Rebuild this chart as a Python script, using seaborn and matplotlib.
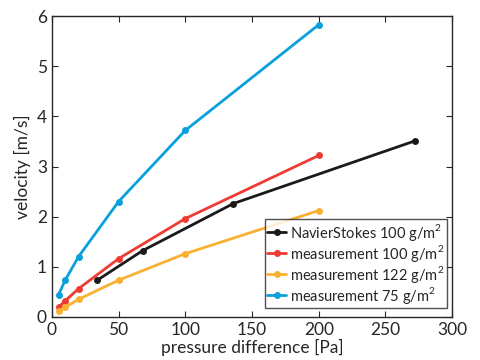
import matplotlib
matplotlib.use("Agg")
import matplotlib.pyplot as plt
import seaborn as sns
import pandas as pd

# data
x_meas = [5, 10, 20, 50, 100, 200]
v_meas_100 = [0.19, 0.32, 0.56, 1.16, 1.96, 3.22]
v_meas_122 = [0.11, 0.19, 0.35, 0.73, 1.26, 2.12]
v_meas_75 = [0.44, 0.73, 1.20, 2.30, 3.72, 5.83]
x_ns = [34, 68, 136, 272]
v_ns_100 = [0.73, 1.32, 2.26, 3.51]

labels = ["NavierStokes 100 g/m$^2$", "measurement 100 g/m$^2$",
          "measurement 122 g/m$^2$", "measurement 75 g/m$^2$"]
colors = ["#1a1a1a", "#ee3b33", "#f9b131", "#0aa0dc"]

frames = [
    pd.DataFrame({"dp": x_ns, "v": v_ns_100, "series": labels[0]}),
    pd.DataFrame({"dp": x_meas, "v": v_meas_100, "series": labels[1]}),
    pd.DataFrame({"dp": x_meas, "v": v_meas_122, "series": labels[2]}),
    pd.DataFrame({"dp": x_meas, "v": v_meas_75, "series": labels[3]}),
]
df = pd.concat(frames, ignore_index=True)

sns.set_style("ticks")
plt.rcParams["font.family"] = ["Lato", "DejaVu Sans"]
plt.rcParams["mathtext.fontset"] = "custom"
plt.rcParams["mathtext.rm"] = "Lato"

fig, ax = plt.subplots(figsize=(4.8, 3.6), dpi=100)
sns.lineplot(data=df, x="dp", y="v", hue="series", hue_order=labels,
             palette=colors, marker="o", markersize=5, markeredgewidth=0,
             linewidth=2, ax=ax, sort=False)

ax.set_xlim(0, 300)
ax.set_ylim(0, 6)
ax.set_xticks(range(0, 301, 50))
ax.set_yticks(range(0, 7))
ax.tick_params(direction="in", top=True, right=True, labelsize=12.5,
               length=4, width=0.8, colors="#262626")
for s in ax.spines.values():
    s.set_linewidth(1)
    s.set_color("#262626")
ax.set_xlabel("pressure difference [Pa]", fontsize=12.5, color="#262626",
              labelpad=1)
ax.set_ylabel("velocity [m/s]", fontsize=12.5, color="#262626")

leg = ax.legend(loc="lower right", fontsize=10.5, frameon=True, fancybox=False,
                edgecolor="#262626", borderpad=0.15, labelspacing=0.0,
                handlelength=1.3, handletextpad=0.3, borderaxespad=0,
                bbox_to_anchor=(0.987, 0.03))
leg.get_frame().set_linewidth(1)

fig.subplots_adjust(left=0.108, right=0.942, top=0.955, bottom=0.12)
fig.savefig("out.png", dpi=100)
